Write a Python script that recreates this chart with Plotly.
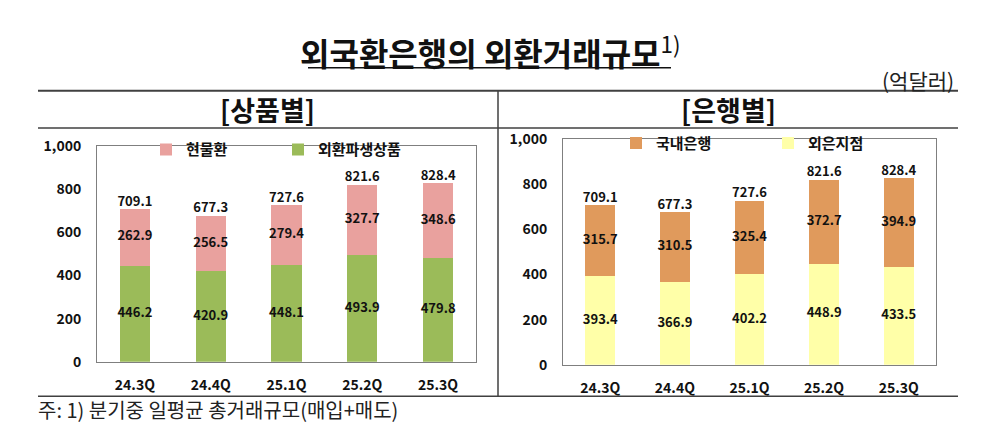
import plotly.graph_objects as go

W, H = 981, 445

quarters = ["24.3Q", "24.4Q", "25.1Q", "25.2Q", "25.3Q"]
# 상품별
spot = [262.9, 256.5, 279.4, 327.7, 348.6]          # 현물환
deriv = [446.2, 420.9, 448.1, 493.9, 479.8]         # 외환파생상품
total_prod = [709.1, 677.3, 727.6, 821.6, 828.4]
# 은행별
domestic = [315.7, 310.5, 325.4, 372.7, 394.9]      # 국내은행
foreign = [393.4, 366.9, 402.2, 448.9, 433.5]       # 외은지점
total_bank = [709.1, 677.3, 727.6, 821.6, 828.4]

FONT = "Noto Sans CJK KR"
C_SPOT = "#E9A19E"
C_DERIV = "#9BBB59"
C_DOM = "#E09A5C"
C_FOR = "#FFFFA8"

def px_x(x):
    return x / W

def px_y(y):
    return 1 - y / H

fig = go.Figure()

def add_panel(xa, ya, bottom, top, totals, names, colors, legend):
    fig.add_trace(go.Bar(
        x=quarters, y=bottom, name=names[0], marker=dict(color=colors[0], line=dict(width=0)),
        xaxis=xa, yaxis=ya, width=0.4, legend=legend, hoverinfo="skip"))
    fig.add_trace(go.Bar(
        x=quarters, y=top, name=names[1], marker=dict(color=colors[1], line=dict(width=0)),
        xaxis=xa, yaxis=ya, width=0.4, legend=legend, hoverinfo="skip"))
    lab_font = dict(family=FONT, size=13, color="#111111", weight=700)
    fig.add_trace(go.Scatter(
        x=quarters, y=[b / 2 for b in bottom], mode="text",
        text=[f"{v:.1f}" for v in bottom], textposition="middle center",
        textfont=lab_font, xaxis=xa, yaxis=ya, showlegend=False, hoverinfo="skip"))
    fig.add_trace(go.Scatter(
        x=quarters, y=[b + t / 2 for b, t in zip(bottom, top)], mode="text",
        text=[f"{v:.1f}" for v in top], textposition="middle center",
        textfont=lab_font, xaxis=xa, yaxis=ya, showlegend=False, hoverinfo="skip"))
    fig.add_trace(go.Scatter(
        x=quarters, y=totals, mode="text",
        text=[f"{v:.1f}" for v in totals], textposition="top center",
        textfont=lab_font, xaxis=xa, yaxis=ya, showlegend=False, hoverinfo="skip"))

add_panel("x", "y", deriv, spot, total_prod, ["외환파생상품", "현물환"], [C_DERIV, C_SPOT], "legend")
add_panel("x2", "y2", foreign, domestic, total_bank, ["외은지점", "국내은행"], [C_FOR, C_DOM], "legend2")

axis_font = dict(family=FONT, size=14, color="#111111", weight=700)
common_y = dict(range=[0, 1000], dtick=200, tickformat=",", showgrid=False, zeroline=False,
                showline=True, linecolor="#7f7f7f", linewidth=1, mirror=True, ticks="",
                tickfont=axis_font, ticklabelstandoff=12)
common_x = dict(showgrid=False, zeroline=False, showline=True, linecolor="#7f7f7f", linewidth=1,
                mirror=True, ticks="", tickfont=axis_font, ticklabelstandoff=10)

leg_font = dict(family=FONT, size=15, color="#111111", weight=700)

fig.update_layout(
    width=W, height=H, margin=dict(l=0, r=0, t=0, b=0),
    paper_bgcolor="white", plot_bgcolor="white",
    barmode="stack", bargap=0.6,
    font=dict(family=FONT, color="#111111"),
    xaxis=dict(domain=[px_x(89), px_x(468)], anchor="y", **common_x),
    yaxis=dict(domain=[px_y(359), px_y(133)], anchor="x", **common_y),
    xaxis2=dict(domain=[px_x(555), px_x(928)], anchor="y2", **common_x),
    yaxis2=dict(domain=[px_y(362), px_y(126)], anchor="x2", **common_y),
    legend=dict(orientation="h", x=px_x(138), y=px_y(137), xanchor="left", yanchor="middle",
                traceorder="reversed", font=leg_font, bgcolor="rgba(0,0,0,0)",
                entrywidth=87, entrywidthmode="pixels", itemwidth=30),
    legend2=dict(orientation="h", x=px_x(608), y=px_y(130), xanchor="left", yanchor="middle",
                 traceorder="reversed", font=leg_font, bgcolor="rgba(0,0,0,0)",
                 entrywidth=107, entrywidthmode="pixels", itemwidth=30),
    showlegend=True,
)

line_col = "#404040"
shapes = [
    dict(type="line", xref="paper", yref="paper", x0=px_x(30), x1=px_x(950), y0=px_y(75), y1=px_y(75),
         line=dict(color=line_col, width=2)),
    dict(type="line", xref="paper", yref="paper", x0=px_x(30), x1=px_x(950), y0=px_y(114), y1=px_y(114),
         line=dict(color=line_col, width=1.5)),
    dict(type="line", xref="paper", yref="paper", x0=px_x(490), x1=px_x(490), y0=px_y(75), y1=px_y(395),
         line=dict(color=line_col, width=1.5)),
    dict(type="line", xref="paper", yref="paper", x0=px_x(30), x1=px_x(950), y0=px_y(395), y1=px_y(395),
         line=dict(color=line_col, width=1.5)),
    # title underline
    dict(type="line", xref="paper", yref="paper", x0=px_x(300), x1=px_x(663), y0=px_y(51), y1=px_y(51),
         line=dict(color="#111111", width=1.5)),
]
fig.update_layout(shapes=shapes)

annotations = [
    dict(text="<b>외국환은행의 외환거래규모</b><sup>1)</sup>", x=px_x(290), y=px_y(33), xanchor="left",
         yanchor="middle", font=dict(family=FONT, size=32, color="#111111")),
    dict(text="(억달러)", x=px_x(948), y=px_y(64), xanchor="right", yanchor="middle",
         font=dict(family=FONT, size=21, color="#222222")),
    dict(text="<b>[상품별]</b>", x=px_x(259), y=px_y(95), xanchor="center", yanchor="middle",
         font=dict(family=FONT, size=27, color="#111111")),
    dict(text="<b>[은행별]</b>", x=px_x(720), y=px_y(95), xanchor="center", yanchor="middle",
         font=dict(family=FONT, size=27, color="#111111")),
    dict(text="주: 1) 분기중 일평균 총거래규모(매입+매도)", x=px_x(28), y=px_y(409), xanchor="left",
         yanchor="middle", font=dict(family=FONT, size=20, color="#222222")),
]
for a in annotations:
    a.update(xref="paper", yref="paper", showarrow=False)
fig.update_layout(annotations=annotations)

fig.write_html("out.html")
